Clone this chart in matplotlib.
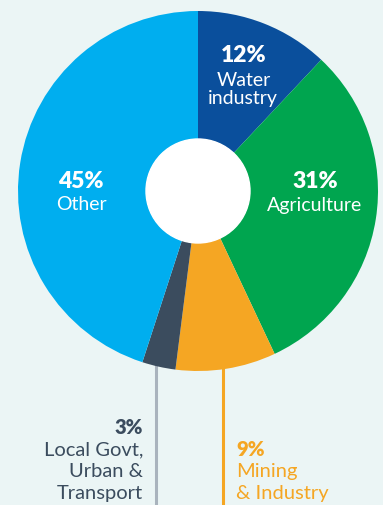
import matplotlib
matplotlib.use("Agg")
import matplotlib.pyplot as plt

categories = ["Water industry", "Agriculture", "Mining & Industry", "Local Govt, Urban & Transport", "Other"]
values = [12, 31, 9, 3, 45]
colors = ["#0a4f9c", "#00a54f", "#f5a623", "#3b4c5e", "#00aeef"]
pct_labels = ["12%", "31%", "9%", "3%", "45%"]

W, H = 383, 506
fig = plt.figure(figsize=(W / 100, H / 100), dpi=100)
fig.patch.set_facecolor("#ebf5f5")
ax = fig.add_axes([0, 0, 1, 1])
ax.set_xlim(0, W)
ax.set_ylim(0, H)
ax.set_aspect("equal")
ax.axis("off")

cx, cy = 198, H - 192
R, r_hole = 180, 52

# leader lines (behind pie)
ax.plot([156, 156], [H - 360, 0], color="#a9b3bd", lw=2.2, zorder=1, solid_capstyle="butt")
ax.plot([222.5, 222.5], [H - 360, 0], color="#f5a623", lw=2.2, zorder=1, solid_capstyle="butt")

wedges, _ = ax.pie(values, colors=colors, startangle=90, counterclock=False,
                   center=(cx, cy), radius=R, wedgeprops=dict(width=R - r_hole, linewidth=0),
                   frame=True)
for w in wedges:
    w.set_zorder(2)
hole = plt.Circle((cx, cy), r_hole, color="white", zorder=3)
ax.add_patch(hole)
ax.set_xlim(0, W)
ax.set_ylim(0, H)
ax.axis("off")

fam = ["Lato", "DejaVu Sans"]
big = 16.5
small = 14
bottom = 14.5

def T(x, y, s, **kw):
    ax.text(x, H - y, s, family=fam, zorder=5, **kw)

# Water industry
T(244, 55, pct_labels[0], color="white", fontsize=big, fontweight="heavy", ha="center", va="center")
T(244, 80, "Water", color="white", fontsize=small, ha="center", va="center")
T(243, 98, "industry", color="white", fontsize=small, ha="center", va="center")
# Agriculture
T(315, 181, pct_labels[1], color="white", fontsize=big, fontweight="heavy", ha="center", va="center")
T(315, 205, "Agriculture", color="white", fontsize=small, ha="center", va="center")
# Other
T(81, 181, pct_labels[4], color="white", fontsize=big, fontweight="heavy", ha="center", va="center")
T(81, 205, "Other", color="white", fontsize=small, ha="center", va="center")
# Local Govt
T(143, 428, pct_labels[3], color="#3b4c5e", fontsize=bottom, fontweight="heavy", ha="right", va="center")
T(143, 450, "Local Govt,", color="#3b4c5e", fontsize=bottom, ha="right", va="center")
T(143, 472, "Urban &", color="#3b4c5e", fontsize=bottom, ha="right", va="center")
T(143, 494, "Transport", color="#3b4c5e", fontsize=bottom, ha="right", va="center")
# Mining
T(236, 450, pct_labels[2], color="#f5a623", fontsize=bottom, fontweight="heavy", ha="left", va="center")
T(236, 472, "Mining", color="#f5a623", fontsize=bottom, ha="left", va="center")
T(236, 494, "& Industry", color="#f5a623", fontsize=bottom, ha="left", va="center")

fig.savefig("out.png", dpi=100, facecolor=fig.get_facecolor())
